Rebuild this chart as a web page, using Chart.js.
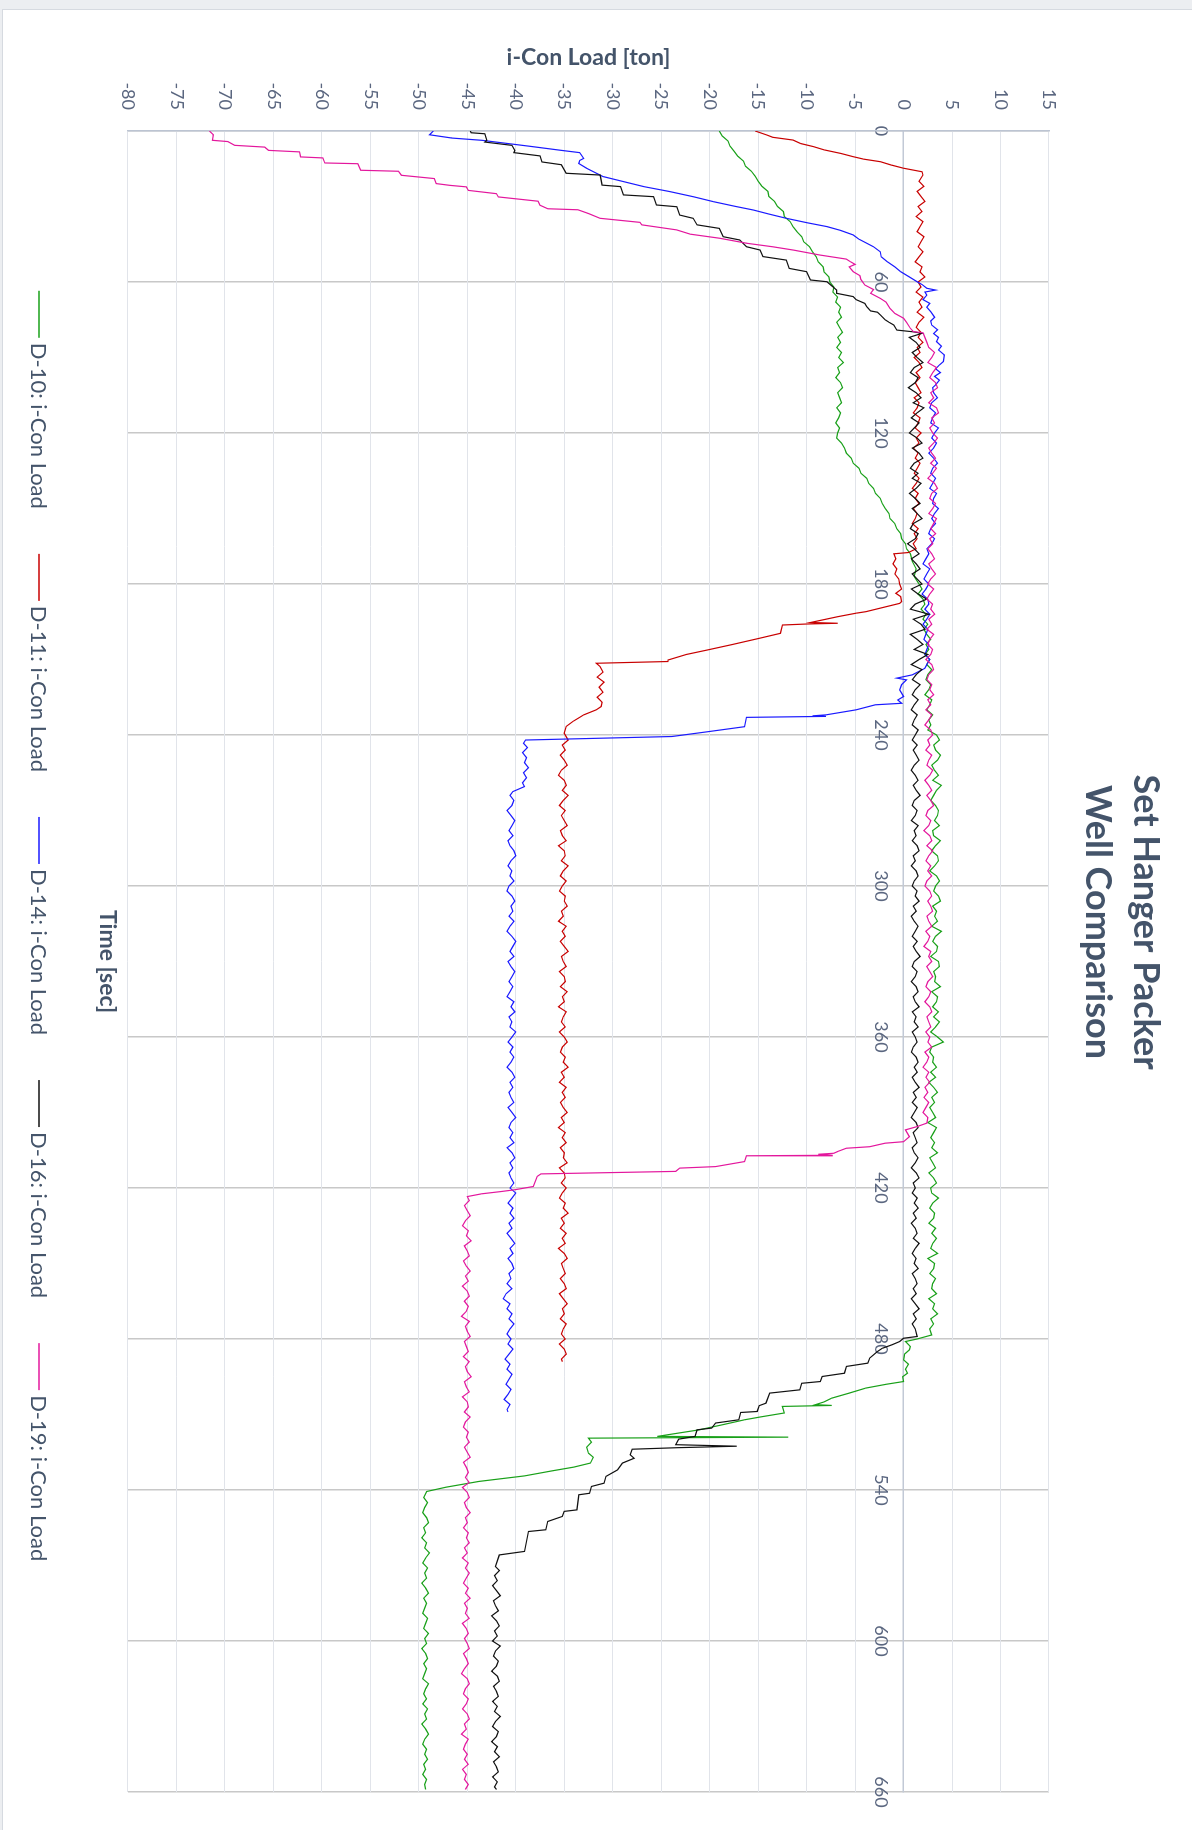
<!DOCTYPE html>
<html lang="en">
<head>
    <meta charset="UTF-8">
    <title>Set Hanger Packer - Well Comparison</title>
    <script src="https://cdn.jsdelivr.net/npm/chart.js"></script>
    <style>
        html, body {
            margin: 0;
            padding: 0;
            width: 1192px;
            height: 1830px;
            overflow: hidden;
            background-color: #eceef1;
        }
        #frame {
            position: absolute;
            left: 2px;
            top: 9px;
            width: 1300px;
            height: 1900px;
            background-color: #ffffff;
            border: 1px solid #d6dae0;
        }
        /* the chart is drawn landscape and turned a quarter turn clockwise */
        #rotator {
            position: absolute;
            left: 0;
            top: 0;
            width: 1830px;
            height: 1192px;
            transform-origin: 0 0;
            transform: translate(1192px, 0) rotate(90deg);
        }
        canvas { display: block; }
    </style>
</head>
<body>
    <div id="frame"></div>
    <div id="rotator">
        <canvas id="myChart" width="1830" height="1192"></canvas>
    </div>

<script>
    const TITLE_LINES = ['Set Hanger Packer', 'Well Comparison'];
    const X_TITLE = 'Time [sec]';
    const Y_TITLE = 'i-Con Load [ton]';
    const SERIES_NAMES = ['D-10: i-Con Load', 'D-11: i-Con Load', 'D-14: i-Con Load', 'D-16: i-Con Load', 'D-19: i-Con Load'];
    const SERIES_COLORS = ['#19a019', '#c80000', '#1a1aff', '#111111', '#e3179d'];

    // [time sec, load ton]
    const D10 = [
        [0,-19.0],[2,-18.7],[4,-18.1],[6,-17.9],[8,-17.5],[10,-17.1],[12,-16.5],[14,-16.3],[16,-15.7],[18,-15.3],
        [20,-15.0],[22,-14.6],[24,-14.0],[26,-13.9],[28,-13.3],[30,-13.0],[32,-12.4],[34,-12.3],[36,-11.7],[38,-11.4],
        [40,-11.0],[42,-10.5],[44,-10.3],[46,-9.7],[48,-9.4],[50,-9.0],[52,-8.8],[54,-8.3],[56,-8.2],[58,-7.7],
        [60,-7.6],[62,-7.2],[64,-7.3],[66,-6.8],[68,-7.0],[70,-6.5],[72,-6.7],[74,-6.4],[76,-6.9],[78,-6.6],
        [80,-6.3],[82,-6.8],[84,-6.5],[86,-6.9],[88,-6.4],[90,-6.7],[92,-6.2],[94,-6.8],[96,-6.6],[98,-7.0],
        [100,-6.5],[102,-6.3],[104,-6.8],[106,-6.6],[108,-6.4],[110,-6.9],[112,-6.5],[114,-6.7],[116,-7.0],[118,-6.6],
        [120,-6.8],[122,-6.9],[124,-6.4],[126,-6.1],[128,-5.9],[130,-5.4],[132,-5.2],[134,-4.6],[136,-4.4],[138,-3.8],
        [140,-3.6],[142,-3.1],[144,-2.9],[146,-2.4],[148,-2.2],[150,-1.9],[152,-1.5],[154,-1.4],[156,-0.9],[158,-0.7],
        [160,-0.3],[162,-0.2],[164,0.2],[166,0.3],[168,0.7],[171,0.9],[174,1.3],[177,1.1],[180,1.6],[182,1.9],
        [184,1.5],[186,2.0],[188,2.2],[190,1.8],[192,2.3],[194,2.0],[196,2.5],[198,2.1],[200,2.4],[202,2.8],
        [204,2.3],[206,2.6],[208,2.2],[210,2.7],[212,2.4],[214,2.9],[216,2.5],[218,2.3],[220,2.8],[222,2.6],
        [224,2.2],[226,2.9],[228,2.7],[230,2.4],[232,3.0],[234,2.6],[236,2.8],[238,2.5],[240,3.4],[242,3.7],
        [244,3.1],[246,3.3],[248,3.8],[250,3.5],[252,2.9],[254,3.2],[256,3.6],[258,3.0],[260,3.9],[262,3.4],
        [264,3.1],[266,2.8],[268,3.3],[270,3.6],[272,3.5],[274,3.2],[276,3.7],[278,3.0],[280,3.1],[282,3.8],
        [284,3.3],[286,2.9],[288,3.5],[290,3.6],[292,3.2],[294,2.7],[296,3.4],[298,3.7],[300,3.3],[302,3.1],
        [304,3.6],[306,3.8],[308,3.0],[310,3.4],[312,3.2],[314,3.5],[316,2.9],[318,3.9],[320,3.3],[322,3.0],
        [324,3.5],[326,3.4],[328,2.8],[330,3.6],[332,3.7],[334,3.1],[336,3.3],[338,3.2],[340,3.8],[342,2.9],
        [344,3.5],[346,3.4],[348,3.0],[350,3.6],[352,3.1],[354,3.7],[356,3.3],[358,2.8],[360,3.5],[362,4.1],
        [364,2.9],[366,2.7],[368,3.1],[370,3.0],[372,3.4],[374,2.8],[376,3.3],[378,2.6],[380,3.1],[382,3.5],
        [384,2.9],[386,3.2],[388,2.7],[390,3.0],[392,3.3],[394,2.5],[396,3.4],[398,3.1],[400,2.8],[402,3.2],
        [404,2.9],[406,3.5],[408,2.7],[410,3.0],[412,3.3],[414,2.6],[416,3.1],[418,3.4],[420,2.8],[422,2.9],
        [424,3.6],[426,3.0],[428,2.7],[430,3.2],[432,3.1],[434,2.6],[436,3.3],[438,2.9],[440,3.4],[442,3.0],
        [444,2.8],[446,3.5],[448,2.5],[450,3.2],[452,3.1],[454,2.7],[456,3.3],[458,3.0],[460,2.9],[462,3.4],
        [464,2.6],[466,3.2],[468,3.0],[470,3.5],[472,2.8],[474,3.1],[476,2.7],[478.4,2.9],[480,1.4],[481,0.2],
        [483,0.7],[484.3,0.6],[486,0.1],[488.3,0.0],[490,0.5],[492,0.2],[493.6,0.4],[495,-0.1],[496.9,0.0],[498,-1.8],
        [499.5,-3.9],[501.5,-5.6],[503.5,-7.4],[505,-8.2],[506.1,-9.1],[506.4,-7.4],[506.8,-12.5],[509.4,-12.3],[511,-14.8],[512.1,-16.4],
        [514,-18.6],[516.1,-21.1],[518.7,-25.4],[519.0,-11.9],[519.4,-32.5],[521,-32.2],[523,-32.7],[525.4,-32.5],[527,-32.0],[529.3,-32.3],
        [530.9,-34.0],[532.5,-36.4],[534.4,-39.1],[536.6,-43.8],[538.9,-47.2],[540.6,-49.2],[543,-49.5],[545,-49.1],[547,-49.4],[549,-49.6],
        [551,-49.2],[553,-49.0],[555,-49.5],[557,-49.3],[559,-49.7],[561,-49.2],[563,-49.4],[565,-48.9],[567,-49.3],[569,-49.6],
        [571,-49.1],[573,-49.4],[575,-49.2],[577,-49.7],[579,-49.3],[581,-49.0],[583,-49.5],[585,-49.2],[587,-49.4],[589,-49.6],
        [591,-49.1],[593,-49.3],[595,-49.5],[597,-49.0],[599,-49.4],[601,-49.2],[603,-49.7],[605,-49.3],[607,-49.1],[609,-49.5],
        [611,-49.2],[613,-49.4],[615,-49.6],[617,-49.0],[619,-49.3],[621,-49.5],[623,-49.2],[625,-49.6],[627,-49.1],[629,-49.4],
        [631,-49.2],[633,-49.7],[635,-49.3],[637,-49.0],[639,-49.4],[641,-49.6],[643,-49.2],[645,-49.4],[647,-49.1],[649,-49.5],
        [651,-49.3],[653,-49.6],[655,-49.2],[657,-49.4],[659,-49.3]
    ];

    const D11 = [
        [0,-15.3],[1.6,-14.1],[2.5,-13.5],[3.6,-11.4],[5,-10.6],[6.2,-9.3],[7.5,-8.2],[8.9,-6.5],[10.2,-5.2],[11.2,-4.1],
        [12.2,-2.4],[13.5,-1.3],[14.8,0.0],[16.2,1.9],[17.5,2.0],[20,1.6],[22,2.1],[24,1.4],[26,1.8],[28,2.2],
        [30,1.5],[32,1.9],[34,1.3],[36,2.0],[38,1.7],[40,1.4],[42,2.1],[44,1.8],[46,1.5],[48,2.0],
        [50,1.6],[52,1.2],[54,1.9],[56,1.7],[58,2.2],[60,1.5],[62,1.8],[64,1.3],[66,2.0],[68,1.6],
        [70,1.9],[72,1.4],[74,2.1],[76,1.6],[78,1.3],[80,1.8],[82,1.5],[84,2.0],[86,1.4],[88,1.7],
        [90,1.1],[92,1.6],[94,1.9],[96,1.3],[98,1.7],[100,1.2],[102,1.5],[104,1.8],[106,1.1],[108,1.6],
        [110,1.4],[112,1.0],[114,1.7],[116,1.5],[118,1.2],[120,1.8],[122,1.3],[124,1.6],[126,1.0],[128,1.5],
        [130,1.2],[132,1.7],[134,1.4],[136,1.1],[138,1.6],[140,1.3],[142,0.9],[144,1.5],[146,1.2],[148,1.6],
        [150,1.0],[152,1.4],[154,1.2],[156,0.9],[158,1.5],[160,1.1],[162,1.4],[164,1.0],[166,1.3],[167.5,0.5],
        [168,-1.0],[170,-0.8],[172,-1.1],[174,-0.7],[176,-0.9],[178,-0.5],[180,-0.4],[182,-0.2],[183.7,-0.8],[185,-0.3],
        [187,-0.2],[187.7,-0.4],[191,-3.9],[191.6,-4.9],[193,-6.8],[195.3,-9.6],[195.6,-6.8],[195.9,-10.0],[196.3,-12.5],[199.6,-12.7],
        [201.6,-14.9],[204,-17.6],[206.2,-20.2],[208,-22.4],[210.2,-24.3],[210.8,-24.3],[211.5,-31.7],[212.8,-31.3],[215,-31.0],[217,-31.6],
        [219,-30.9],[221,-31.4],[223,-31.0],[225,-31.6],[227,-31.1],[228.7,-31.2],[230,-31.7],[232,-33.0],[234.6,-34.1],[236.6,-34.8],
        [239.3,-35.0],[242,-34.6],[244,-35.2],[246,-34.9],[248,-35.4],[250,-35.0],[252,-34.7],[254,-35.3],[256,-35.6],[258,-35.0],
        [260,-34.8],[262,-35.2],[264,-34.6],[266,-35.1],[268,-35.5],[270,-34.9],[272,-35.3],[274,-35.0],[276,-34.7],[278,-35.4],
        [280,-35.2],[282,-34.8],[284,-35.6],[286,-35.0],[288,-34.9],[290,-35.3],[292,-34.6],[294,-35.1],[296,-35.4],[298,-34.8],
        [300,-35.2],[302,-35.5],[304,-34.9],[306,-35.0],[308,-34.7],[310,-35.3],[312,-35.1],[314,-35.6],[316,-34.8],[318,-35.2],
        [320,-34.9],[322,-35.4],[324,-35.0],[326,-34.6],[328,-35.3],[330,-35.1],[332,-34.8],[334,-35.5],[336,-35.0],[338,-34.9],
        [340,-35.4],[342,-34.7],[344,-35.2],[346,-35.0],[348,-35.6],[350,-34.8],[352,-35.1],[354,-35.3],[356,-34.9],[358,-35.5],
        [360,-35.0],[362,-34.7],[364,-35.2],[366,-35.4],[368,-34.9],[370,-35.1],[372,-34.6],[374,-35.3],[376,-35.0],[378,-35.5],
        [380,-34.8],[382,-35.2],[384,-34.9],[386,-35.4],[388,-35.1],[390,-34.7],[392,-35.3],[394,-35.0],[396,-35.6],[398,-34.9],
        [400,-35.2],[402,-34.8],[404,-35.4],[406,-35.0],[408,-35.1],[410,-34.7],[412,-35.5],[414,-35.0],[416,-34.9],[418,-35.3],
        [420,-34.8],[422,-35.2],[424,-35.5],[426,-34.9],[428,-35.1],[430,-34.6],[432,-35.3],[434,-35.0],[436,-35.4],[438,-34.8],
        [440,-35.2],[442,-34.9],[444,-35.6],[446,-35.0],[448,-34.7],[450,-35.3],[452,-35.1],[454,-34.9],[456,-35.4],[458,-35.0],
        [460,-34.8],[462,-35.5],[464,-35.1],[466,-34.7],[468,-35.2],[470,-35.0],[472,-35.4],[474,-34.8],[476,-35.1],[478,-35.3],
        [480,-34.9],[482,-35.5],[484,-35.0],[486,-34.8],[488,-35.3],[489,-35.2]
    ];

    const D14 = [
        [0,-48.5],[1.5,-48.9],[2.8,-46.6],[3.7,-43.5],[6.0,-38.7],[7.7,-35.3],[8.6,-33.4],[10.9,-33.0],[11.7,-33.4],[12.9,-33.5],
        [14.8,-32.7],[18.1,-31.0],[20,-29.0],[22.1,-26.8],[24,-24.2],[26.1,-21.7],[28.1,-19.6],[30,-17.3],[31.4,-15.5],[33,-13.9],
        [34.7,-12.1],[36.5,-9.9],[38,-7.9],[39.5,-6.5],[41.3,-5.2],[43,-4.6],[44.6,-3.8],[46,-3.1],[48,-2.4],[50,-2.3],
        [51.9,-1.7],[54,-0.9],[55.9,-0.3],[58,0.6],[59.9,1.4],[61,1.9],[62.5,2.4],[63.2,3.3],[64,2.2],[65.2,2.4],
        [67,2.0],[68.5,2.7],[70,2.4],[71.8,2.8],[74,3.2],[75.5,2.8],[77.1,2.9],[79,3.5],[80.5,3.1],[82,3.6],
        [83.7,3.4],[85.5,3.9],[87,3.6],[89,4.2],[91.6,4.1],[93,3.7],[94.5,3.3],[96,3.8],[97.5,3.2],[99,3.7],
        [100.9,3.3],[102,3.0],[104,3.1],[106,3.5],[108,2.9],[110,2.7],[112,3.3],[114,3.0],[116,2.8],[118,3.6],
        [120,3.2],[122,2.9],[124,3.4],[126,3.1],[128,2.6],[130,3.1],[132,3.5],[134,3.0],[136,2.8],[138,3.3],
        [140,3.0],[142,2.7],[144,3.4],[146,3.1],[148,3.0],[150,3.6],[152,3.2],[154,2.9],[156,3.3],[158,2.8],
        [160,2.6],[162,3.2],[164,2.9],[166,2.4],[168,2.6],[170,2.3],[172,2.0],[174,2.7],[176,2.4],[178,2.1],
        [180,2.6],[182,2.3],[184,1.9],[186,2.5],[188,2.6],[190,2.2],[192,2.7],[194,2.4],[196,2.0],[198,2.5],
        [200,2.3],[202,2.1],[204,2.6],[206,2.4],[208,2.2],[210,2.7],[212,2.4],[213.5,2.2],[216.1,0.9],[217.4,-0.7],
        [218.1,0.3],[220,-0.2],[222.1,-0.4],[224.7,0.0],[226.1,-0.6],[227.4,-0.2],[228,-2.9],[230,-4.9],[232,-8.0],[232.4,-9.4],
        [232.6,-8.0],[233,-16.2],[236.7,-16.4],[238.7,-20.2],[240.6,-23.9],[242,-39.0],[243.3,-39.2],[245,-38.8],[247,-39.3],[249,-38.9],
        [251,-39.1],[253,-38.7],[255,-39.2],[257,-38.9],[259,-39.3],[260.5,-39.1],[262.5,-40.3],[264,-40.6],[266,-40.2],[268,-40.4],
        [270,-40.9],[272,-40.5],[274,-40.1],[276,-40.4],[278,-40.7],[280,-40.3],[282,-40.8],[284,-40.6],[286,-40.2],[288,-40.0],
        [290,-40.5],[292,-40.8],[294,-40.4],[296,-40.6],[298,-40.2],[300,-40.7],[302,-40.9],[304,-40.4],[306,-40.1],[308,-40.5],
        [310,-40.3],[312,-40.7],[314,-40.2],[316,-40.6],[318,-40.9],[320,-40.4],[322,-40.0],[324,-40.3],[326,-40.6],[328,-40.2],
        [330,-40.8],[332,-40.5],[334,-40.1],[336,-40.4],[338,-40.7],[340,-40.3],[342,-40.6],[344,-40.9],[346,-40.2],[348,-40.5],
        [350,-40.1],[352,-40.7],[354,-40.4],[356,-40.6],[358,-40.0],[360,-40.4],[362,-40.8],[364,-40.3],[366,-40.6],[368,-40.2],
        [370,-40.5],[372,-40.9],[374,-40.4],[376,-40.1],[378,-40.6],[380,-40.3],[382,-40.7],[384,-40.5],[386,-40.2],[388,-40.8],
        [390,-40.4],[392,-40.0],[394,-40.5],[396,-40.7],[398,-40.3],[400,-40.6],[402,-40.2],[404,-40.9],[406,-40.4],[408,-40.1],
        [410,-40.6],[412,-40.3],[414,-40.7],[416,-40.5],[418,-40.2],[420,-40.6],[422,-40.0],[424,-40.4],[426,-40.8],[428,-40.3],
        [430,-40.6],[432,-40.2],[434,-40.7],[436,-40.4],[438,-40.9],[440,-40.5],[442,-40.1],[444,-40.6],[446,-40.3],[448,-40.8],
        [450,-40.4],[452,-40.2],[454,-40.7],[456,-40.5],[458,-40.9],[460,-40.4],[462,-41.0],[464,-41.3],[466,-40.6],[468,-40.9],
        [470,-40.4],[472,-40.7],[474,-40.2],[476,-40.6],[478,-40.9],[480,-40.5],[482,-40.8],[484,-40.3],[486,-40.7],[488,-41.1],
        [490,-40.6],[492,-40.9],[494,-40.4],[496,-40.7],[498,-41.0],[500,-40.5],[502,-40.8],[504,-41.2],[506,-40.6],[508,-40.9],
        [509,-40.8]
    ];

    const D16 = [
        [0,-44.7],[0.7,-44.6],[1.1,-43.2],[3.7,-43.0],[4.4,-43.2],[5.7,-40.4],[7.7,-40.1],[8.6,-40.2],[9.9,-37.5],[12.3,-37.3],
        [13.4,-35.3],[16.8,-34.8],[17.5,-31.3],[21.5,-31.1],[22.1,-29.2],[25.4,-28.9],[26.1,-25.8],[29.4,-25.5],[30.1,-23.4],[33.4,-23.1],
        [34.7,-21.7],[37.3,-21.3],[38.7,-19.0],[42.0,-18.6],[43.3,-16.9],[46.0,-16.2],[47.3,-14.8],[49.9,-14.5],[51.3,-12.1],[54.6,-11.8],
        [55.9,-10.0],[59.2,-9.6],[59.9,-7.9],[63.2,-6.9],[64.5,-6.9],[65.8,-5.2],[67,-4.9],[68.5,-4.0],[69.8,-3.8],[71.5,-3.4],
        [72,-2.7],[73.1,-2.4],[75,-1.9],[76,-1.5],[77.1,-1.0],[79.1,-0.7],[79.8,1.0],[80.4,1.9],[82,0.6],[84,1.3],
        [86,1.7],[88,0.9],[90,1.4],[92,2.0],[94,1.1],[96,0.7],[98,1.5],[100,1.2],[102,0.5],[104,1.3],
        [106,1.8],[108,1.0],[110,2.1],[112,1.4],[114,0.8],[116,1.6],[118,1.1],[120,0.6],[122,1.4],[124,1.9],
        [126,0.9],[128,1.6],[130,2.0],[132,1.1],[134,0.7],[136,1.5],[138,0.9],[140,1.8],[142,1.3],[144,0.6],
        [146,1.2],[148,1.7],[150,0.9],[152,1.4],[154,1.9],[156,1.0],[158,0.7],[160,1.5],[162,1.2],[164,0.4],
        [166,1.1],[168,1.6],[170,0.8],[172,1.3],[174,1.7],[176,0.9],[178,1.4],[180,1.9],[182,0.8],[184,1.5],
        [186,2.4],[188,1.2],[190,0.7],[192,2.6],[194,1.0],[196,1.8],[198,2.2],[200,0.7],[202,1.4],[204,2.0],
        [206,1.1],[208,2.5],[210,1.6],[212,0.8],[214,1.9],[216,1.3],[218,0.9],[220,1.7],[222,1.2],[224,0.9],
        [226,1.5],[228,1.1],[230,0.8],[232,1.4],[234,1.1],[236,0.9],[238,1.5],[240,1.2],[242,0.9],[244,1.4],
        [246,1.0],[248,1.3],[250,1.6],[252,1.1],[254,0.8],[256,1.2],[258,1.5],[260,1.0],[262,1.3],[264,1.7],
        [266,1.1],[268,0.9],[270,1.4],[272,1.2],[274,0.8],[276,1.5],[278,1.1],[280,1.3],[282,0.9],[284,1.4],
        [286,1.6],[288,1.0],[290,1.2],[292,0.8],[294,1.3],[296,1.5],[298,1.1],[300,0.9],[302,1.4],[304,1.2],
        [306,1.6],[308,1.0],[310,1.3],[312,0.8],[314,1.1],[316,1.5],[318,1.2],[320,0.9],[322,1.4],[324,1.0],
        [326,1.3],[328,1.7],[330,1.1],[332,0.9],[334,1.4],[336,1.2],[338,0.8],[340,1.3],[342,1.5],[344,1.0],
        [346,1.2],[348,1.6],[350,0.9],[352,1.3],[354,1.1],[356,1.5],[358,0.9],[360,1.2],[362,1.4],[364,1.0],
        [366,0.8],[368,1.3],[370,1.5],[372,1.1],[374,1.4],[376,0.9],[378,1.2],[380,1.6],[382,1.0],[384,1.3],
        [386,0.9],[388,1.4],[390,1.1],[392,0.8],[394,1.3],[396,1.5],[398,1.0],[400,1.2],[402,1.4],[404,0.9],
        [406,1.1],[408,1.5],[410,1.2],[412,0.8],[414,1.3],[416,1.6],[418,1.0],[420,1.2],[422,0.9],[424,1.4],
        [426,1.1],[428,1.5],[430,1.0],[432,1.3],[434,0.8],[436,1.2],[438,1.4],[440,1.0],[442,1.6],[444,1.2],
        [446,0.9],[448,1.3],[450,1.1],[452,1.5],[454,0.9],[456,1.2],[458,1.4],[460,1.0],[462,1.3],[464,0.8],
        [466,1.2],[468,1.6],[470,1.0],[472,1.3],[474,0.9],[476,1.2],[479,1.4],[479.7,0.0],[481,-0.4],[482.3,-1.2],
        [483.7,-2.2],[485,-2.7],[487.6,-3.5],[489.6,-3.7],[490.9,-5.9],[493.6,-6.1],[494.9,-8.4],[496.9,-8.6],[497.6,-10.5],[500.2,-10.7],
        [501.5,-13.8],[505.5,-14.2],[506.5,-14.9],[508.8,-15.1],[509.2,-16.8],[512.1,-17.0],[513.4,-19.4],[515.4,-19.8],[516.1,-21.3],[518.7,-21.5],
        [519.8,-23.2],[522,-23.5],[522.6,-17.2],[523.2,-23.4],[523.8,-28.0],[526,-28.2],[527.4,-27.8],[529.3,-29.0],[532,-29.5],[534.6,-30.7],
        [537.3,-30.9],[538.6,-32.2],[541.3,-32.4],[541.9,-33.5],[547.9,-33.7],[548.5,-35.0],[550.5,-35.2],[552.5,-36.7],[555.8,-36.9],[556.5,-38.7],
        [564.4,-39.1],[565.8,-41.7],[570.4,-42.1],[572,-41.7],[574,-42.2],[576,-41.9],[578,-42.4],[580,-42.0],[582,-41.6],[584,-42.3],
        [586,-42.1],[588,-41.8],[590,-42.5],[592,-42.0],[594,-41.7],[596,-42.2],[598,-41.9],[600,-42.4],[602,-41.6],[604,-42.1],
        [606,-42.3],[608,-41.8],[610,-42.0],[612,-42.5],[614,-41.9],[616,-41.7],[618,-42.3],[620,-42.0],[622,-41.8],[624,-42.4],
        [626,-41.9],[628,-42.2],[630,-41.6],[632,-42.1],[634,-42.4],[636,-41.8],[638,-42.0],[640,-42.5],[642,-41.9],[644,-42.2],
        [646,-41.7],[648,-42.3],[650,-42.0],[652,-41.8],[654,-42.4],[656,-41.9],[658,-42.2],[659,-42.0]
    ];

    const D19 = [
        [0,-71.6],[1.5,-71.2],[3.7,-71.3],[4.2,-69.7],[5.7,-69.0],[6.4,-65.9],[7.7,-65.5],[8.3,-62.3],[10.3,-62.2],[10.7,-59.9],
        [12.7,-59.7],[13.0,-56.3],[15.6,-56.0],[16.0,-52.1],[17.6,-51.8],[18.9,-48.4],[20.9,-48.2],[21.6,-46.8],[22.2,-45.1],[23.6,-44.9],
        [24.9,-42.0],[26.2,-41.8],[27.9,-37.7],[29.5,-37.5],[30.9,-36.7],[31.3,-33.6],[32.8,-32.5],[34.7,-31.3],[36.3,-27.2],[37.3,-27.0],
        [39.3,-23.4],[41,-22.0],[42.6,-19.0],[44.6,-16.2],[46,-13.5],[47.3,-11.4],[49.3,-8.6],[50.9,-5.9],[51.9,-5.5],[53,-5.0],
        [54,-5.6],[55.9,-5.2],[57.5,-4.5],[59,-4.4],[61.2,-4.0],[63,-3.1],[64.5,-3.4],[66.5,-2.4],[68,-1.8],[70.5,-1.4],
        [72.5,-0.9],[74.4,0.0],[76,0.3],[78.4,0.7],[79.7,1.0],[80.2,2.0],[82,2.2],[84,2.4],[86,2.6],[88,3.2],
        [90,2.9],[92,2.5],[94,3.4],[96,3.0],[98,2.7],[100,3.3],[102,3.5],[104,2.8],[106,3.1],[108,2.6],
        [110,3.4],[112,3.6],[114,2.9],[116,3.2],[118,2.7],[120,3.0],[122,3.5],[124,3.1],[126,2.6],[128,2.9],
        [130,3.3],[132,2.8],[134,3.4],[136,3.0],[138,2.5],[140,3.2],[142,3.5],[144,2.9],[146,2.7],[148,3.3],
        [150,3.0],[152,2.6],[154,3.4],[156,3.1],[158,2.8],[160,3.3],[162,2.7],[164,3.0],[166,2.5],[168,2.9],
        [170,3.2],[172,2.6],[174,2.9],[176,3.3],[178,2.8],[180,2.5],[182,3.1],[184,2.7],[186,2.4],[188,3.0],
        [190,2.8],[192,3.2],[194,2.6],[196,2.9],[198,2.4],[200,3.1],[202,2.7],[204,2.5],[206,3.0],[208,2.8],
        [210,2.3],[212,2.9],[214,3.1],[216,2.6],[218,2.4],[220,2.9],[222,2.7],[224,3.1],[226,2.5],[228,2.8],
        [230,2.3],[232,2.9],[234,2.6],[236,2.2],[238,2.8],[240,3.0],[242,2.5],[244,2.7],[246,2.3],[248,2.9],
        [250,2.6],[252,2.4],[254,3.0],[256,2.7],[258,2.2],[260,2.6],[262,2.9],[264,2.4],[266,2.8],[268,3.1],
        [270,2.5],[272,2.3],[274,2.8],[276,2.6],[278,2.1],[280,2.7],[282,2.9],[284,2.4],[286,3.0],[288,2.6],
        [290,2.3],[292,2.8],[294,2.5],[296,2.9],[298,2.4],[300,2.2],[302,2.7],[304,2.9],[306,2.5],[308,2.8],
        [310,3.0],[312,2.4],[314,2.6],[316,2.9],[318,2.3],[320,2.7],[322,2.5],[324,2.1],[326,2.8],[328,2.6],
        [330,2.9],[332,2.4],[334,2.7],[336,3.0],[338,2.5],[340,2.3],[342,2.8],[344,2.6],[346,2.2],[348,2.7],
        [350,2.9],[352,2.4],[354,2.6],[356,2.8],[358,2.3],[360,2.7],[362,2.5],[364,2.9],[366,2.2],[368,2.6],
        [370,2.4],[372,2.0],[374,2.6],[376,2.3],[378,2.7],[380,2.2],[382,2.5],[384,2.1],[386,2.6],[388,2.3],
        [390,2.0],[392,2.5],[394.2,2.4],[395.6,1.4],[396.9,0.2],[399.6,0.6],[401.6,0.0],[402.2,-1.9],[403.6,-3.5],[404.2,-5.9],
        [405.5,-6.8],[406.2,-7.2],[406.6,-8.8],[407.0,-7.3],[407.2,-16.2],[409.5,-16.4],[411.5,-19.4],[412.1,-23.1],[413.4,-23.5],[414.4,-37.4],
        [415.4,-37.8],[419.4,-38.2],[420.7,-40.1],[421.4,-41.5],[422.3,-43.5],[423.4,-45.0],[425,-44.8],[427,-45.3],[429,-45.0],[431,-44.7],
        [433,-45.2],[435,-45.5],[437,-44.9],[439,-45.1],[441,-44.6],[443,-45.3],[445,-45.0],[447,-44.8],[449,-45.4],[451,-45.1],
        [453,-44.7],[455,-45.2],[457,-44.9],[459,-45.5],[461,-45.0],[463,-44.8],[465,-45.3],[467,-44.9],[469,-45.1],[471,-45.6],
        [473,-44.8],[475,-45.2],[477,-45.0],[479,-44.7],[481,-45.3],[483,-45.1],[485,-44.9],[487,-45.4],[489,-44.8],[491,-45.2],
        [493,-45.0],[495,-44.6],[497,-45.3],[499,-45.1],[501,-44.8],[503,-45.5],[505,-45.0],[507,-44.9],[509,-45.3],[511,-44.7],
        [513,-45.2],[515,-45.4],[517,-44.9],[519,-45.1],[521,-44.8],[523,-45.3],[525,-45.0],[527,-44.7],[529,-45.4],[531,-45.1],
        [533,-44.9],[535,-45.2],[537,-44.8],[539,-45.5],[541,-45.0],[543,-44.8],[545,-45.3],[547,-45.1],[549,-44.7],[551,-45.2],
        [553,-45.0],[555,-45.4],[557,-44.9],[559,-45.1],[561,-44.8],[563,-45.3],[565,-45.0],[567,-45.5],[569,-44.9],[571,-45.2],
        [573,-44.8],[575,-45.1],[577,-45.4],[579,-44.9],[581,-45.2],[583,-44.7],[585,-45.3],[587,-45.0],[589,-45.2],[591,-44.8],
        [593,-45.5],[595,-45.1],[597,-44.9],[599,-45.3],[601,-45.0],[603,-44.8],[605,-45.4],[607,-45.1],[609,-44.9],[611,-45.3],
        [613,-45.6],[615,-45.0],[617,-44.8],[619,-45.2],[621,-45.4],[623,-44.9],[625,-45.1],[627,-45.5],[629,-45.0],[631,-44.8],
        [633,-45.3],[635,-45.1],[637,-45.6],[639,-44.9],[641,-45.2],[643,-45.4],[645,-45.0],[647,-45.3],[649,-44.9],[651,-45.5],
        [653,-45.1],[655,-45.3],[657,-44.9],[659,-45.2]
    ];

    const ALL_SERIES = [D10, D11, D14, D16, D19];

    // titles and legend (landscape coordinates, before the quarter turn)
    const chartText = {
        id: 'chartText',
        afterDraw(chart) {
            const ctx = chart.ctx;
            const area = chart.chartArea;
            ctx.save();
            ctx.fillStyle = '#44546a';
            ctx.textAlign = 'center';
            ctx.textBaseline = 'middle';

            ctx.font = 'bold 36px Lato';
            ctx.fillText(TITLE_LINES[0], 922, 46);
            ctx.fillText(TITLE_LINES[1], 922, 94);

            ctx.font = 'bold 23px Lato';
            ctx.fillText(X_TITLE, (area.left + area.right) / 2, 1085);
            ctx.save();
            ctx.translate(58, (area.top + area.bottom) / 2);
            ctx.rotate(-Math.PI / 2);
            ctx.fillText(Y_TITLE, 0, 0);
            ctx.restore();

            // legend
            ctx.font = '22px Lato';
            ctx.textAlign = 'left';
            const lineLen = 47, gap = 5, spacing = 45, legendY = 1153;
            const widths = SERIES_NAMES.map(n => ctx.measureText(n).width);
            let total = spacing * (SERIES_NAMES.length - 1);
            widths.forEach(w => total += lineLen + gap + w);
            let x = 926 - total / 2;
            SERIES_NAMES.forEach((name, i) => {
                ctx.strokeStyle = SERIES_COLORS[i];
                ctx.lineWidth = 1.6;
                ctx.beginPath();
                ctx.moveTo(x, legendY);
                ctx.lineTo(x + lineLen, legendY);
                ctx.stroke();
                ctx.fillStyle = '#44546a';
                ctx.fillText(name, x + lineLen + gap, legendY + 1);
                x += lineLen + gap + widths[i] + spacing;
            });
            ctx.restore();
        }
    };

    function createChart() {
        const ctx = document.getElementById('myChart').getContext('2d');
        const datasets = ALL_SERIES.map((series, i) => ({
            label: SERIES_NAMES[i],
            data: series.map(p => ({ x: p[0], y: p[1] })),
            borderColor: SERIES_COLORS[i],
            borderWidth: 1.2,
            pointRadius: 0,
            fill: false,
            tension: 0,
            order: ALL_SERIES.length - i // later wells drawn on top
        }));

        new Chart(ctx, {
            type: 'line',
            data: { datasets: datasets },
            options: {
                responsive: false,
                animation: false,
                layout: { padding: { left: 71, right: 38, top: 143, bottom: 128 } },
                plugins: {
                    legend: { display: false },
                    title: { display: false },
                    tooltip: { enabled: false }
                },
                scales: {
                    x: {
                        type: 'linear',
                        min: 0,
                        max: 660,
                        position: { y: 0 },
                        ticks: {
                            stepSize: 60,
                            maxRotation: 0,
                            padding: 12,
                            color: '#5b6780',
                            font: { family: 'Lato', size: 18 }
                        },
                        grid: { color: '#c8c8c8', lineWidth: 1.5, drawTicks: false },
                        border: { display: true, color: '#c2c9d6', width: 1.5 }
                    },
                    y: {
                        min: -80,
                        max: 15,
                        afterFit: scale => { scale.width = 60; },
                        ticks: {
                            stepSize: 5,
                            padding: 21,
                            color: '#5b6780',
                            font: { family: 'Lato', size: 18 }
                        },
                        grid: { color: '#e1e4ea', lineWidth: 1, drawTicks: false },
                        border: { display: true, color: '#bcc4d2', width: 1.5 }
                    }
                }
            },
            plugins: [chartText]
        });
    }

    Promise.all([
        document.fonts.load('18px Lato'),
        document.fonts.load('bold 36px Lato')
    ]).then(createChart, createChart);
</script>
</body>
</html>
